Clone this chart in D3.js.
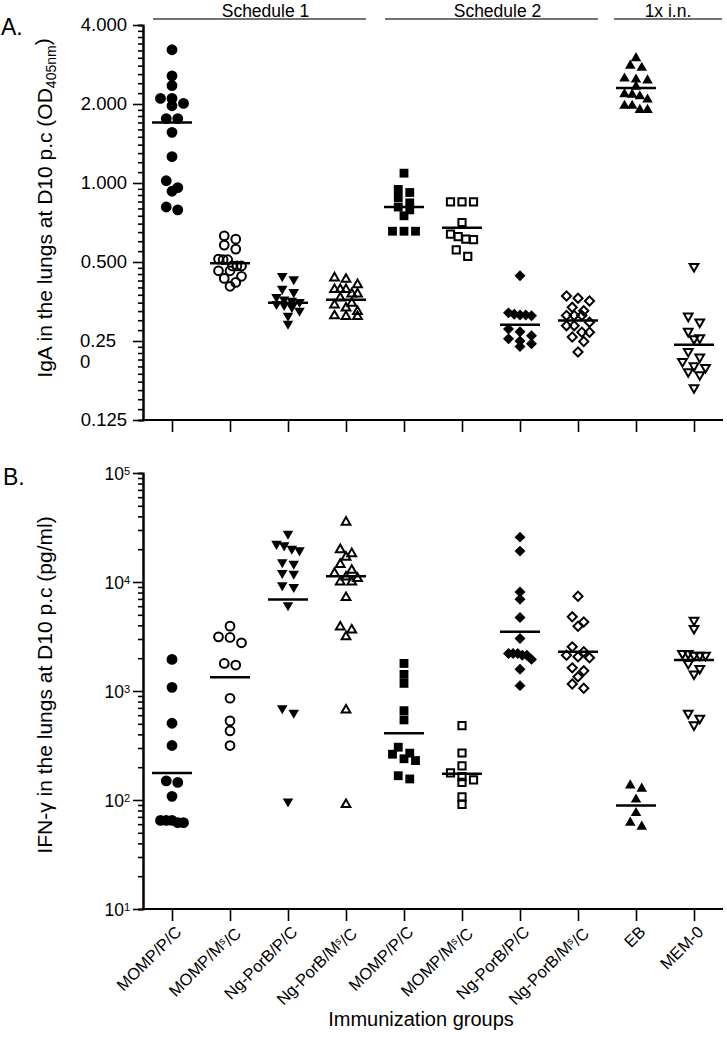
<!DOCTYPE html>
<html><head><meta charset="utf-8">
<script src="https://cdn.jsdelivr.net/npm/d3@7"></script>
<style>
body{margin:0;background:#fff;}
svg{font-family:"Liberation Sans",Arial,sans-serif;}
</style></head><body><svg id="c" width="727" height="1050"></svg>
<script>
// ---- data ----
const groupLabels = ["MOMP/P/C","MOMP/M^s/C","Ng-PorB/P/C","Ng-PorB/M^s/C","MOMP/P/C","MOMP/M^s/C","Ng-PorB/P/C","Ng-PorB/M^s/C","EB","MEM-0"];
const groupShapes = ["circle","circle","triDown","triUp","square","square","diamond","diamond","triUp","triDown"];
const groupFilled = [true,false,true,false,true,false,true,false,true,false];
const schedules = [{name:"Schedule 1", from:0, to:3},{name:"Schedule 2", from:4, to:7},{name:"1x i.n.", from:8, to:9}];

// Panel A: IgA (OD405nm)
const igaG1 = [3.22,2.56,2.35,2.10,2.10,2.01,1.97,1.76,1.76,1.56,1.26,1.02,0.96,0.93,0.81,0.79];
const igaG2 = [0.629,0.611,0.580,0.560,0.513,0.510,0.510,0.483,0.483,0.483,0.463,0.463,0.441,0.433,0.418,0.404];
const igaG3 = [0.442,0.430,0.395,0.384,0.368,0.360,0.356,0.352,0.346,0.343,0.337,0.326,0.312,0.291];
const igaG4 = [0.435,0.430,0.410,0.393,0.393,0.393,0.378,0.378,0.365,0.348,0.343,0.334,0.324,0.312,0.310,0.310];
const igaG5 = [1.09,0.945,0.92,0.88,0.84,0.81,0.79,0.75,0.655,0.655,0.655];
const igaG6 = [0.847,0.847,0.847,0.707,0.638,0.625,0.611,0.608,0.556,0.525];
const igaG7 = [0.443,0.320,0.316,0.314,0.314,0.312,0.278,0.271,0.262,0.255,0.250,0.244,0.238];
const igaG8 = [0.371,0.364,0.355,0.336,0.326,0.313,0.313,0.313,0.295,0.286,0.286,0.270,0.270,0.259,0.249,0.227];
const igaG9 = [2.99,2.80,2.75,2.50,2.48,2.46,2.33,2.18,2.17,2.14,2.08,1.97,1.97,1.90,1.90];
const igaG10 = [0.481,0.311,0.295,0.272,0.257,0.255,0.228,0.217,0.209,0.201,0.198,0.191,0.186,0.166];
const igaMeans = [1.70,0.495,0.350,0.359,0.81,0.676,0.288,0.299,2.30,0.242];
const igaTicks = [0.125,0.25,0.5,1,2,4];
const igaTickLabels = ["0.125","0.25|0","0.500","1.000","2.000","4.000"];

// Panel B: IFN-gamma (pg/ml)
const ifnG1 = [1950,1080,506,316,150,145,108,65,62,65,65,62];
const ifnG2 = [3935,3140,3100,2770,1790,1730,858,532,431,316];
const ifnG3 = [27700,22400,21700,20200,19500,15200,14700,12100,11900,9330,9000,6120,695,632,97];
const ifnG4 = [35400,19800,18200,16900,14500,12800,12000,11100,10800,10000,10000,7200,3870,3620,3140,670,91];
const ifnG5 = [1790,1420,1175,660,543,305,269,263,239,230,167,156];
const ifnG6 = [482,270,206,177,164,153,145,107,91];
const ifnG7 = [25800,19200,8100,6950,4730,3030,2210,2210,2210,2130,2130,1950,1580,1120];
const ifnG8 = [7400,4790,4300,3930,2540,2290,2130,2060,2020,1630,1530,1350,1160,1060];
const ifnG9 = [136,127,101,76,62,57];
const ifnG10 = [4460,3750,2210,2210,2130,2130,2130,1790,1610,1430,625,563,489];
const ifnMeans = [177,1335,6900,11300,410,174,3490,2290,89,1920];
const ifnTicks = [10,100,1000,10000,100000];

const igaData = [igaG1,igaG2,igaG3,igaG4,igaG5,igaG6,igaG7,igaG8,igaG9,igaG10];
const ifnData = [ifnG1,ifnG2,ifnG3,ifnG4,ifnG5,ifnG6,ifnG7,ifnG8,ifnG9,ifnG10];

// ---- drawing ----
const svg = d3.select("#c");
const AX = 143, AXR = 723;
const x = d3.scalePoint().domain(d3.range(groupLabels.length)).range([172, 694]);
const yA = d3.scaleLog().base(2).domain([0.125, 4]).range([420, 25]);
const yB = d3.scaleLog().base(10).domain([10, 100000]).range([909, 473]);

function symbolPath(shape, filled) {
  let type, size, rot = 0;
  if (shape === "circle") { type = d3.symbolCircle; size = filled ? 92 : 60; }
  else if (shape === "square") { type = d3.symbolSquare; size = filled ? 78 : 52; }
  else if (shape === "diamond") { type = d3.symbolSquare; size = filled ? 60 : 42; rot = 45; }
  else if (shape === "triUp") { type = d3.symbolTriangle; size = filled ? 48 : 33; }
  else { type = d3.symbolTriangle; size = filled ? 48 : 33; rot = 180; }
  return { d: d3.symbol().type(type).size(size)(), rot };
}

function swarm(values, y) {
  const pts = values.map(v => ({ v, y: y(v) })).sort((a, b) => a.y - b.y);
  const rows = []; let cur = null;
  pts.forEach(p => {
    if (!cur || p.y - cur[0].y > 7) { cur = [p]; rows.push(cur); } else cur.push(p);
  });
  rows.forEach(r => {
    const n = r.length, step = n > 1 ? Math.min(11.5, 23 / (n - 1)) : 0;
    r.forEach((p, i) => p.dx = (i - (n - 1) / 2) * step);
  });
  return pts;
}

function drawPanel(data, means, y) {
  const g = svg.append("g");
  data.forEach((vals, gi) => {
    const s = symbolPath(groupShapes[gi], groupFilled[gi]);
    const filled = groupFilled[gi];
    g.selectAll(null).data(swarm(vals, y)).join("path")
      .attr("d", s.d)
      .attr("transform", p => `translate(${x(gi) + p.dx},${p.y}) rotate(${s.rot})`)
      .attr("fill", filled ? "#000" : "none")
      .attr("stroke", filled ? "none" : "#000")
      .attr("stroke-width", filled ? 0 : 2);
  });
  g.selectAll(null).data(means).join("line")
    .attr("x1", (m, i) => x(i) - 20).attr("x2", (m, i) => x(i) + 20)
    .attr("y1", m => y(m)).attr("y2", m => y(m))
    .attr("stroke", "#000").attr("stroke-width", 2.5);
}

function styleAxis(sel) {
  sel.select(".domain").attr("stroke", "#000").attr("stroke-width", 2);
  sel.selectAll(".tick line").attr("stroke", "#000").attr("stroke-width", 1.6);
  sel.selectAll("text").attr("fill", "#000").style("font-family", '"Liberation Sans",Arial,sans-serif');
}

// ----- Panel A -----
const minorA = [];
for (let k = 0; k < igaTicks.length - 1; k++) {
  const a = igaTicks[k], step = a / 10;
  for (let j = 1; j <= 9; j++) minorA.push(a + j * step);
}
const gAminor = svg.append("g").attr("transform", `translate(${AX},0)`)
  .call(d3.axisLeft(yA).tickValues(minorA).tickSize(5).tickFormat(""));
styleAxis(gAminor);
const gA = svg.append("g").attr("transform", `translate(${AX},0)`)
  .call(d3.axisLeft(yA).tickValues(igaTicks).tickSize(10).tickSizeOuter(0).tickPadding(6)
    .tickFormat((d, i) => igaTickLabels[i]));
styleAxis(gA);
gA.selectAll(".tick text").style("font-size", "18.5px").each(function (d, i) {
  const lab = igaTickLabels[i];
  if (lab.includes("|")) {
    const parts = lab.split("|");
    const t = d3.select(this).text(null).attr("text-anchor", "start").attr("x", -63).attr("dy", null);
    t.append("tspan").attr("x", -63).attr("dy", "0.32em").text(parts[0]);
    t.append("tspan").attr("x", -63).attr("dy", "21").text(parts[1]);
  }
});
const gAx = svg.append("g").attr("transform", "translate(0,420)")
  .call(d3.axisBottom(x).tickSize(12).tickSizeOuter(0).tickFormat(""));
styleAxis(gAx);
gAx.select(".domain").attr("d", `M${AX},0H${AXR}`);
drawPanel(igaData, igaMeans, yA);

// ----- Panel B -----
const minorB = [];
for (let k = 0; k < ifnTicks.length - 1; k++) for (let j = 2; j <= 9; j++) minorB.push(ifnTicks[k] * j);
const gBminor = svg.append("g").attr("transform", `translate(${AX},0)`)
  .call(d3.axisLeft(yB).tickValues(minorB).tickSize(5).tickFormat(""));
styleAxis(gBminor);
const gB = svg.append("g").attr("transform", `translate(${AX},0)`)
  .call(d3.axisLeft(yB).tickValues(ifnTicks).tickSize(10).tickSizeOuter(0).tickPadding(6).tickFormat(""));
styleAxis(gB);
gB.selectAll(".tick").append("text").attr("x", -13).attr("dy", "0.35em").attr("text-anchor", "end")
  .attr("fill", "#000").style("font-size", "17.5px")
  .each(function (d) {
    const t = d3.select(this);
    t.append("tspan").text("10");
    t.append("tspan").attr("dy", "-0.45em").style("font-size", "11px").text(Math.round(Math.log10(d)));
  });
const gBx = svg.append("g").attr("transform", "translate(0,909)")
  .call(d3.axisBottom(x).tickSize(12).tickSizeOuter(0).tickFormat(""));
styleAxis(gBx);
gBx.select(".domain").attr("d", `M${AX},0H${AXR}`);
gBx.selectAll(".tick").append("text")
  .attr("transform", "translate(10,24) rotate(-45)")
  .attr("text-anchor", "end").attr("fill", "#000").style("font-size", "16.5px")
  .each(function (d) {
    const t = d3.select(this);
    const parts = groupLabels[d].split("^s");
    t.append("tspan").text(parts[0]);
    if (parts.length > 1) {
      t.append("tspan").attr("dy", "-0.4em").style("font-size", "10.5px").text("s");
      t.append("tspan").attr("dy", "0.4em").text(parts[1]);
    }
  });
drawPanel(ifnData, ifnMeans, yB);

// ----- schedule headers -----
const sch = svg.append("g");
schedules.forEach((s, i) => {
  const last = i === schedules.length - 1;
  const x0 = x(s.from) - (last ? 22 : 19), x1 = last ? AXR - 1 : x(s.to) + 20;
  sch.append("line").attr("x1", x0).attr("x2", x1).attr("y1", 19).attr("y2", 19)
    .attr("stroke", "#444").attr("stroke-width", 1.5);
  sch.append("text").attr("x", (x0 + x1) / 2 + (last ? 0 : 6)).attr("y", 16.5).attr("text-anchor", "middle")
    .style("font-size", "17.5px").attr("fill", "#000").text(s.name);
});

// ----- titles -----
svg.append("text").attr("x", 1).attr("y", 35).style("font-size", "23px").text("A.");
svg.append("text").attr("x", 3).attr("y", 485).style("font-size", "23px").text("B.");
const tA = svg.append("text").attr("transform", "translate(52,208) rotate(-90)")
  .attr("text-anchor", "middle").style("font-size", "21px");
tA.append("tspan").text("IgA  in the lungs at D10 p.c (OD");
tA.append("tspan").attr("dy", "0.3em").style("font-size", "14px").text("405nm");
tA.append("tspan").attr("dy", "-0.3em").text(")");
svg.append("text").attr("transform", "translate(52,685) rotate(-90)")
  .attr("text-anchor", "middle").style("font-size", "21px")
  .text("IFN-\u03B3  in the lungs at D10 p.c (pg/ml)");
svg.append("text").attr("x", 421).attr("y", 1026).attr("text-anchor", "middle")
  .style("font-size", "20px").text("Immunization groups");
</script></body></html>
